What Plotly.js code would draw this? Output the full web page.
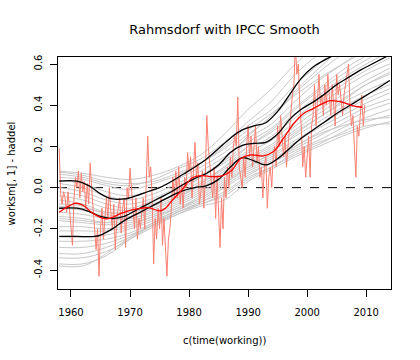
<!DOCTYPE html>
<html><head><meta charset="utf-8">
<script src="https://cdn.plot.ly/plotly-3.0.1.min.js"></script>
<style>html,body{margin:0;padding:0;background:#fff}#plot{width:420px;height:360px}</style>
</head><body><div id="plot"></div>
<script>
// ---- data ----
const gridYears = [1958,1962,1966,1970,1974,1978,1982,1986,1990,1994,1998,2002,2006,2010,2014];
const g1  = [0.08,0.07,0.05,0.04,0.06,0.10,0.16,0.26,0.38,0.48,0.60,0.70,0.78,0.85,0.92];
const g2  = [0.065,0.05,0.02,0.01,0.04,0.09,0.14,0.22,0.32,0.42,0.55,0.65,0.74,0.82,0.88];
const g3  = [0.05,0.04,0.01,-0.01,0.02,0.06,0.12,0.20,0.30,0.38,0.50,0.60,0.70,0.78,0.84];
const g4  = [0.035,0.02,-0.02,-0.04,-0.01,0.04,0.10,0.17,0.26,0.34,0.46,0.56,0.65,0.73,0.80];
const g5  = [0.02,0.0,-0.04,-0.06,-0.03,0.02,0.08,0.15,0.24,0.31,0.42,0.52,0.60,0.68,0.74];
const g6  = [0.0,-0.02,-0.06,-0.08,-0.05,0.0,0.06,0.13,0.22,0.29,0.39,0.48,0.57,0.64,0.70];
const g7  = [-0.02,-0.04,-0.08,-0.10,-0.06,-0.01,0.05,0.12,0.20,0.27,0.36,0.45,0.53,0.60,0.66];
const g8  = [-0.04,-0.06,-0.10,-0.11,-0.08,-0.03,0.03,0.10,0.18,0.25,0.34,0.42,0.50,0.57,0.63];
const g9  = [-0.06,-0.08,-0.12,-0.12,-0.09,-0.04,0.02,0.09,0.17,0.23,0.32,0.40,0.48,0.55,0.60];
const g10 = [-0.08,-0.09,-0.13,-0.14,-0.10,-0.05,0.01,0.08,0.15,0.21,0.30,0.38,0.45,0.52,0.58];
const g11 = [-0.10,-0.11,-0.14,-0.15,-0.11,-0.06,0.0,0.07,0.14,0.20,0.28,0.36,0.43,0.50,0.55];
const g12 = [-0.12,-0.13,-0.15,-0.15,-0.12,-0.07,-0.01,0.06,0.13,0.19,0.27,0.34,0.41,0.47,0.52];
const g13 = [-0.14,-0.15,-0.17,-0.16,-0.13,-0.08,-0.02,0.05,0.12,0.18,0.25,0.32,0.39,0.45,0.50];
const g14 = [-0.16,-0.17,-0.18,-0.17,-0.14,-0.09,-0.03,0.04,0.11,0.16,0.23,0.30,0.37,0.43,0.48];
const g15 = [-0.19,-0.19,-0.20,-0.18,-0.14,-0.10,-0.04,0.03,0.10,0.15,0.22,0.29,0.35,0.41,0.46];
const g16 = [-0.21,-0.21,-0.21,-0.19,-0.15,-0.10,-0.05,0.02,0.09,0.14,0.20,0.27,0.33,0.39,0.43];
const g17 = [-0.24,-0.24,-0.23,-0.20,-0.16,-0.11,-0.06,0.01,0.08,0.13,0.19,0.25,0.31,0.37,0.41];
const g18 = [-0.26,-0.26,-0.25,-0.22,-0.17,-0.12,-0.07,0.0,0.07,0.12,0.18,0.23,0.29,0.34,0.38];
const g19 = [-0.29,-0.29,-0.27,-0.23,-0.18,-0.12,-0.08,-0.03,0.05,0.10,0.16,0.21,0.27,0.32,0.35];
const g20 = [-0.32,-0.32,-0.29,-0.24,-0.18,-0.13,-0.09,-0.06,0.03,0.09,0.15,0.20,0.25,0.29,0.32];
const g21 = [-0.34,-0.34,-0.31,-0.25,-0.19,-0.13,-0.08,-0.04,0.04,0.10,0.17,0.22,0.26,0.30,0.31];
const g22 = [-0.37,-0.37,-0.33,-0.25,-0.18,-0.12,-0.07,-0.02,0.06,0.12,0.20,0.26,0.30,0.33,0.34];
const g23 = [-0.38,-0.38,-0.32,-0.24,-0.17,-0.11,-0.05,0.02,0.10,0.17,0.26,0.34,0.42,0.50,0.56];
const g24 = [0.075,0.06,0.03,0.02,0.03,0.07,0.12,0.19,0.28,0.36,0.45,0.53,0.60,0.66,0.70];
const g25 = [-0.09,-0.10,-0.12,-0.12,-0.08,-0.02,0.05,0.14,0.25,0.35,0.47,0.58,0.68,0.77,0.84];
const g26 = [-0.15,-0.16,-0.17,-0.14,-0.10,-0.05,0.02,0.10,0.20,0.28,0.38,0.47,0.55,0.62,0.68];
const grayRuns = [g1,g2,g3,g4,g5,g6,g7,g8,g9,g10,g11,g12,g13,g14,g15,g16,g17,g18,g19,g20,g21,g22,g23,g24,g25,g26];

const upperYears = [1958,1961,1963,1965,1967,1969,1971,1973,1975,1977,1979,1981,1983,1985,1987,1989,1991,1993,1995,1997,1999,2001,2003,2005,2010,2014];
const upperVals  = [0.032,0.032,0.01,-0.03,-0.055,-0.055,-0.04,-0.02,0.0,0.03,0.065,0.10,0.14,0.19,0.24,0.28,0.30,0.315,0.37,0.45,0.53,0.585,0.62,0.65,0.72,0.78];
const midYears = [1958,1961,1963,1965,1967,1969,1971,1973,1975,1977,1979,1981,1983,1985,1987,1989,1991,1993,1995,1997,1999,2001,2003,2005,2007,2009,2011,2014];
const midVals  = [-0.10,-0.10,-0.115,-0.14,-0.15,-0.14,-0.11,-0.08,-0.05,-0.02,0.015,0.045,0.07,0.11,0.17,0.205,0.215,0.22,0.26,0.33,0.38,0.415,0.455,0.50,0.535,0.57,0.60,0.645];
const lowYears = [1958,1961,1964,1965,1967,1969,1971,1973,1975,1977,1979,1981,1983,1985,1987,1989,1991,1993,1995,1997,1999,2001,2003,2005,2007,2009,2011,2014];
const lowVals  = [-0.237,-0.237,-0.237,-0.23,-0.20,-0.16,-0.13,-0.10,-0.07,-0.04,-0.015,0.0,0.01,0.04,0.10,0.145,0.13,0.11,0.14,0.19,0.24,0.28,0.32,0.36,0.395,0.43,0.465,0.52];

const obsStart = 1958.0; // quarterly observations
const obsVals = [
 0.19,-0.03,-0.08,-0.02,  -0.05,-0.12,-0.02,-0.10,  -0.22,-0.28,-0.06,0.05,  0.0,0.08,-0.05,0.07,
 -0.02,0.03,-0.10,0.02,   -0.08,0.12,0.0,-0.10,     -0.15,-0.30,-0.20,-0.43, -0.20,-0.10,-0.25,-0.12,
 -0.05,-0.15,0.0,-0.12,   -0.20,-0.08,-0.30,-0.15,  -0.10,-0.05,-0.22,-0.10, -0.05,-0.29,0.0,-0.05,
 0.095,-0.02,-0.10,-0.20, -0.05,-0.25,-0.15,-0.20,  -0.12,-0.05,-0.20,0.0,   0.25,0.05,0.10,-0.05,
 -0.37,-0.15,-0.25,-0.10, -0.20,-0.05,-0.28,-0.15,  -0.30,-0.43,-0.25,-0.20, -0.10,0.05,-0.05,0.08,
 -0.05,0.10,-0.08,0.02,   -0.10,0.05,0.0,0.17,      0.08,0.15,-0.05,0.10,    0.22,0.05,0.12,-0.08,
 -0.02,0.08,-0.10,0.05,   0.35,0.20,0.10,0.0,       -0.05,0.10,-0.15,0.05,   -0.10,-0.29,-0.05,-0.20,
 0.05,-0.05,0.10,0.0,     0.15,0.05,0.20,0.25,      0.20,0.44,0.10,0.05,     0.0,0.15,0.05,0.20,
 0.30,0.15,0.25,0.10,     0.20,0.30,0.12,0.20,      0.05,0.10,-0.05,0.10,    0.15,-0.10,0.05,0.10,
 0.0,0.15,0.20,0.10,      0.30,0.20,0.35,0.25,      0.15,0.25,0.10,0.20,     0.30,0.35,0.45,0.50,
 0.70,0.55,0.60,0.40,     0.30,0.10,0.20,0.05,      0.15,0.25,0.05,0.30,     0.35,0.50,0.30,0.45,
 0.55,0.40,0.45,0.35,     0.50,0.40,0.55,0.45,      0.35,0.50,0.40,0.30,     0.55,0.45,0.50,0.40,
 0.35,0.45,0.50,0.55,     0.60,0.40,0.30,0.35,      0.20,0.05,0.30,0.25,     0.35,0.45,0.30,0.40
];
const smoothYears = [1958,1959,1960.7,1962,1963.5,1965,1966,1967,1968.5,1970.3,1972,1973.1,1975.1,1976,1977.1,1978.8,1980.5,1982.2,1983.9,1985.6,1987.3,1988.7,1990.4,1992.6,1994.3,1996,1997.7,1999.4,2001.1,2002.8,2003.9,2006.2,2007.8,2009.3];
const smoothVals  = [-0.12,-0.10,-0.076,-0.085,-0.12,-0.145,-0.152,-0.145,-0.125,-0.108,-0.10,-0.097,-0.113,-0.10,-0.063,-0.011,0.047,0.058,0.053,0.057,0.086,0.14,0.159,0.154,0.175,0.24,0.31,0.36,0.385,0.41,0.422,0.413,0.397,0.39];

const xTicks = [1960,1970,1980,1990,2000,2010];
const yTicks = [-0.4,-0.2,0,0.2,0.4,0.6];
const yTickText = ["-0.4","-0.2","0.0","0.2","0.4","0.6"];

// ---- build traces ----
const traces = [];
grayRuns.forEach(v => traces.push({x: gridYears, y: v, type:'scatter', mode:'lines',
  line:{color:'#c8c8c8', width:1, shape:'spline', smoothing:1}, hoverinfo:'skip'}));
const obsYears = obsVals.map((_, i) => obsStart + i*0.25);
traces.push({x: obsYears, y: obsVals, type:'scatter', mode:'lines', line:{color:'#fa8072', width:1}});
[[upperYears,upperVals],[midYears,midVals],[lowYears,lowVals]].forEach(([xx,yy]) =>
  traces.push({x: xx, y: yy, type:'scatter', mode:'lines', line:{color:'#000', width:1.3, shape:'spline', smoothing:1}}));
traces.push({x: smoothYears, y: smoothVals, type:'scatter', mode:'lines', line:{color:'#ff0000', width:1.3, shape:'spline', smoothing:1}});

const font = {family:'DejaVu Sans, sans-serif', color:'#000'};
const layout = {
  width:420, height:360, showlegend:false,
  paper_bgcolor:'#fff', plot_bgcolor:'#fff',
  margin:{l:58, r:29, t:57, b:71},
  title:{text:'Rahmsdorf with IPCC Smooth', font:Object.assign({size:13}, font),
         x:0.5, xref:'paper', y:1-29/360, yref:'container', yanchor:'middle'},
  xaxis:{range:[1957.8,2014.2], tickvals:xTicks, ticks:'outside', ticklen:7, tickwidth:1, tickcolor:'#000',
         showline:true, mirror:true, linecolor:'#000', linewidth:1, showgrid:false, zeroline:false,
         ticklabelstandoff:7, tickfont:Object.assign({size:10}, font)},
  yaxis:{range:[-0.492,0.634], tickvals:yTicks, ticktext:yTickText, tickangle:-90, ticks:'outside', ticklen:7,
         tickwidth:1, tickcolor:'#000', showline:true, mirror:true, linecolor:'#000', linewidth:1,
         showgrid:false, zeroline:false, ticklabelstandoff:4, tickfont:Object.assign({size:10}, font)},
  shapes:[{type:'line', xref:'paper', x0:0, x1:1, yref:'y', y0:0, y1:0, layer:'below',
           line:{color:'#000', width:1, dash:'dash'}}],
  annotations:[
    {text:'c(time(working))', xref:'paper', yref:'paper', x:0.5, y:-0.223, yanchor:'middle', xanchor:'center', showarrow:false, font:Object.assign({size:10}, font)},
    {text:'worksm[, 1] - haddel', xref:'paper', yref:'paper', x:-0.14, y:0.5, textangle:-90, xanchor:'center', yanchor:'middle', showarrow:false, font:Object.assign({size:10}, font)}
  ]
};
Plotly.newPlot('plot', traces, layout, {staticPlot:true, displayModeBar:false});
</script></body></html>
